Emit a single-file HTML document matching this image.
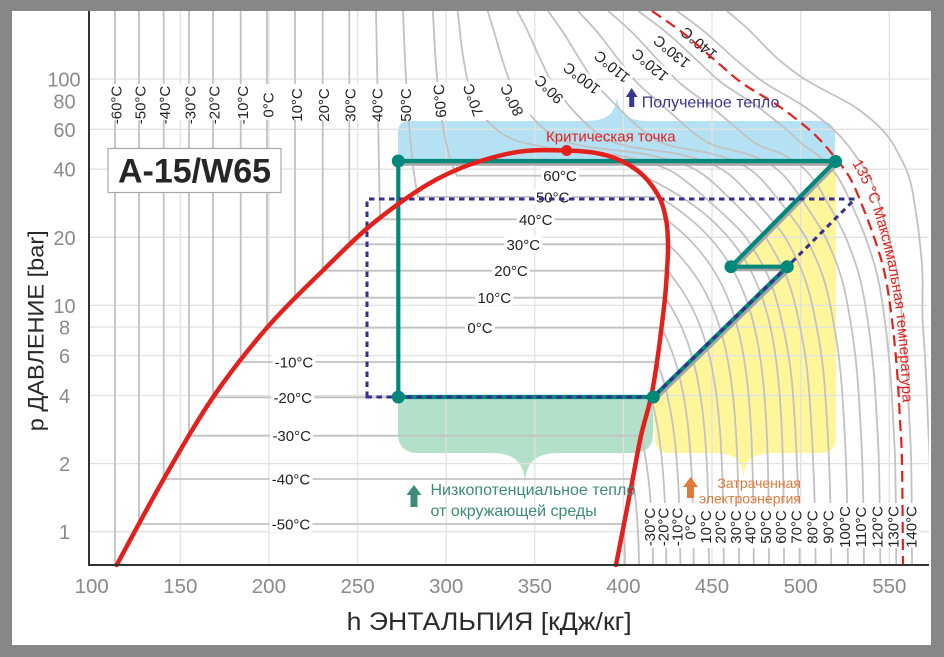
<!DOCTYPE html>
<html><head><meta charset="utf-8">
<style>
html,body{margin:0;padding:0;background:#878787;width:944px;height:657px;overflow:hidden}
svg{display:block}
text{font-family:"Liberation Sans",Arial,sans-serif}
</style></head><body>
<svg width="944" height="657" viewBox="0 0 944 657" xmlns="http://www.w3.org/2000/svg">
<defs>
<clipPath id="cp"><rect x="89" y="11" width="840" height="554"/></clipPath>
<path id="tp" d="M 852,163 Q 868,190 877,222 Q 889,262 895,305 Q 902,360 903,418"/>
</defs>
<rect width="944" height="657" fill="#878787"/>
<rect x="12" y="11" width="919" height="634" fill="#ffffff"/>

<!-- colored regions -->
<path d="M398,161 L398,133 Q398,121 410,121 L585,121 C607,121 615,114 617,97 C619,114 627,121 649,121 L820,121 Q835,121 835,136 L835,161 Z" fill="#b4e1f4"/>
<path d="M398,397 L653,397 L653,433 Q653,453 633,453 L560,453 C535,453 527,462 525,482 C523,462 515,453 490,453 L418,453 Q398,453 398,433 Z" fill="#b3e0c8"/>
<path d="M653,397 L787,267 L731,267 L836,161 L836,438 Q836,453 821,453 L775,453 C752,453 745,460 743.5,477 C742,460 735,453 712,453 L670,453 Q655,453 655,438 Z" fill="#fff59b"/>

<!-- grid -->
<g stroke="#e2e2e2" stroke-width="1.3" fill="none">
<path d="M180.3,11V565M268.9,11V565M357.6,11V565M446.2,11V565M534.8,11V565M623.4,11V565M712,11V565M800.7,11V565M889.3,11V565"/>
<path d="M89,79.1H929M89,129.3H929M89,169.2H929M89,237.3H929M89,305.4H929M89,327.1H929M89,355.6H929M89,395.5H929M89,463.6H929M89,531.7H929"/>
</g>

<!-- isotherms (generated) -->
<g id="iso" clip-path="url(#cp)" fill="none" stroke="#c2c2c2" stroke-width="1.8" stroke-linejoin="round"></g>

<!-- top label band -->
<rect x="100" y="84" width="430" height="36" fill="#ffffff"/>
<g font-size="15" fill="#222" text-anchor="middle">
<text transform="translate(116.5,105) rotate(-90)" y="5">-60°C</text>
<text transform="translate(140.5,105) rotate(-90)" y="5">-50°C</text>
<text transform="translate(165,105) rotate(-90)" y="5">-40°C</text>
<text transform="translate(190.5,105) rotate(-90)" y="5">-30°C</text>
<text transform="translate(214.5,105) rotate(-90)" y="5">-20°C</text>
<text transform="translate(243,105) rotate(-90)" y="5">-10°C</text>
<text transform="translate(268.5,105) rotate(-90)" y="5">0°C</text>
<text transform="translate(297,105) rotate(-90)" y="5">10°C</text>
<text transform="translate(324,105) rotate(-90)" y="5">20°C</text>
<text transform="translate(350.5,105) rotate(-90)" y="5">30°C</text>
<text transform="translate(377.5,105) rotate(-90)" y="5">40°C</text>
<text transform="translate(406,105) rotate(-90)" y="5">50°C</text>
</g>

<!-- diagonal labels -->
<g font-size="15" fill="#222" text-anchor="middle">
<g transform="translate(440,101) rotate(-95)"><rect x="-19" y="-8" width="38" height="16" fill="#fff"/><text y="5">60°C</text></g>
<g transform="translate(473.3,100) rotate(-110)"><rect x="-19" y="-8" width="38" height="16" fill="#fff"/><text y="5">70°C</text></g>
<g transform="translate(512,100) rotate(-116)"><rect x="-19" y="-8" width="38" height="16" fill="#fff"/><text y="5">80°C</text></g>
<g transform="translate(549,89.3) rotate(-135)"><rect x="-19" y="-8" width="38" height="16" fill="#fff"/><text y="5">90°C</text></g>
<g transform="translate(581.7,78.3) rotate(-142)"><rect x="-23" y="-8" width="46" height="16" fill="#fff"/><text y="5">100°C</text></g>
<g transform="translate(612,66.7) rotate(-140)"><rect x="-23" y="-8" width="46" height="16" fill="#fff"/><text y="5">110°C</text></g>
<g transform="translate(650,65) rotate(-140)"><rect x="-23" y="-8" width="46" height="16" fill="#fff"/><text y="5">120°C</text></g>
<g transform="translate(671.7,51.7) rotate(-140)"><rect x="-23" y="-8" width="46" height="16" fill="#fff"/><text y="5">130°C</text></g>
<g transform="translate(699,43.3) rotate(-140)"><rect x="-23" y="-8" width="46" height="16" fill="#fff"/><text y="5">140°C</text></g>
</g>

<!-- dome labels -->
<g fill="#fff">
<rect x="541" y="167.7" width="38" height="16"/>
<rect x="533.7" y="189" width="38" height="16"/>
<rect x="516.7" y="211.3" width="38" height="16"/>
<rect x="504.3" y="236.3" width="38" height="16"/>
<rect x="492" y="262.7" width="38" height="16"/>
<rect x="475.3" y="289.7" width="38" height="16"/>
<rect x="465" y="319.7" width="30" height="16"/>
<rect x="272.5" y="354" width="43" height="16"/>
<rect x="271.2" y="389.3" width="43" height="16"/>
<rect x="270.2" y="427.7" width="43" height="16"/>
<rect x="269.5" y="471" width="43" height="16"/>
<rect x="269.5" y="516" width="43" height="16"/>
</g>
<g font-size="15" fill="#222" text-anchor="middle">
<text x="560" y="181.2">60°C</text>
<text x="552.7" y="202.5">50°C</text>
<text x="535.7" y="224.8">40°C</text>
<text x="523.3" y="249.8">30°C</text>
<text x="511" y="276.2">20°C</text>
<text x="494.3" y="303.2">10°C</text>
<text x="480" y="333.2">0°C</text>
<text x="294" y="367.5">-10°C</text>
<text x="292.7" y="402.8">-20°C</text>
<text x="291.7" y="441.2">-30°C</text>
<text x="291" y="484.5">-40°C</text>
<text x="291" y="529.5">-50°C</text>
</g>

<!-- bottom label band -->
<rect x="643" y="503" width="277" height="45" fill="#ffffff"/>
<g font-size="15" fill="#222" text-anchor="middle">
<text transform="translate(650,527) rotate(-90)" y="5">-30°C</text>
<text transform="translate(663.3,527) rotate(-90)" y="5">-20°C</text>
<text transform="translate(677.3,527) rotate(-90)" y="5">-10°C</text>
<text transform="translate(690.7,527) rotate(-90)" y="5">0°C</text>
<text transform="translate(706,527) rotate(-90)" y="5">10°C</text>
<text transform="translate(720.7,527) rotate(-90)" y="5">20°C</text>
<text transform="translate(736,527) rotate(-90)" y="5">30°C</text>
<text transform="translate(750.7,527) rotate(-90)" y="5">40°C</text>
<text transform="translate(766,527) rotate(-90)" y="5">50°C</text>
<text transform="translate(781,527) rotate(-90)" y="5">60°C</text>
<text transform="translate(796.7,527) rotate(-90)" y="5">70°C</text>
<text transform="translate(812.7,527) rotate(-90)" y="5">80°C</text>
<text transform="translate(828.3,527) rotate(-90)" y="5">90°C</text>
<text transform="translate(845,527) rotate(-90)" y="5">100°C</text>
<text transform="translate(861,527) rotate(-90)" y="5">110°C</text>
<text transform="translate(877.3,527) rotate(-90)" y="5">120°C</text>
<text transform="translate(893.3,527) rotate(-90)" y="5">130°C</text>
<text transform="translate(911.7,527) rotate(-90)" y="5">140°C</text>
</g>

<!-- cycle -->
<path d="M400,164.3 L835,164.3 M655.5,399.5 L789.5,269.5 M733,269.8 L789,269.8 M733.5,269 L838,163.5" stroke="#a6a6a6" stroke-width="3" fill="none"/>
<path d="M398.3,161 L398.3,397 L653.3,397 L787.3,266.7 L731,266.7 L835.5,161 Z" stroke="#00897b" stroke-width="4.2" fill="none" stroke-linejoin="round"/>
<path d="M367,397 L367,199 L855,199 L787.3,266.7 L653.3,397 Z" stroke="#372e8e" stroke-width="3" fill="none" stroke-dasharray="5.5,4.5"/>

<!-- saturation dome -->
<path id="dome" d="M116.7,565 L163.7,479 L213,397.3 L267,327.7 L322.7,270.7 L378,219.3 L441.7,176.7 L510,153.3 L566.7,150.5 L607,155.5 L638,171 L658,195 L666,219.3 L668,244.3 L667,270.7 L665,297.7 L661.5,327.7 L657,362 L651,397.3 L641,435.7 L632.7,479 L624,524 L616,565" stroke="#e3211c" stroke-width="4.5" fill="none" stroke-linejoin="round" stroke-linecap="round"/>

<!-- 135 max temp -->
<path id="maxT" d="M652,11 L683,33 L717,62 L742,83 L780,107 L813,133 L833,155 L850,178 L862,205 L875,240 L885,275 L892,320 L897,370 L900,420 L902,463 L903,565" stroke="#e3211c" stroke-width="2.2" fill="none" stroke-dasharray="11,6"/>
<text font-size="15" fill="#e3211c"><textPath href="#tp">135 °C Максимальная температура</textPath></text>

<!-- dots -->
<g fill="#00897b">
<circle cx="398.3" cy="161" r="6.5"/>
<circle cx="398.3" cy="397" r="6.5"/>
<circle cx="653.3" cy="397" r="6.5"/>
<circle cx="731" cy="266.7" r="6.5"/>
<circle cx="787.3" cy="266.7" r="6.5"/>
<circle cx="835.5" cy="161.5" r="6.5"/>
</g>
<circle cx="566.7" cy="150.5" r="5.5" fill="#e3211c"/>

<!-- annotations -->
<text x="546" y="141.5" font-size="15" fill="#e3211c">Критическая точка</text>
<polygon points="631.7,88 637.5,97 634.2,97 634.2,107 629.2,107 629.2,97 625.9,97" fill="#3a3591"/>
<text x="641.7" y="107.5" font-size="16" fill="#3a3591">Полученное тепло</text>
<polygon points="414,485 421.5,495 417.5,495 417.5,507 410.5,507 410.5,495 406.5,495" fill="#3d8b78"/>
<text x="430.5" y="495" font-size="16" fill="#3d8b78">Низкопотенциальное тепло</text>
<text x="430.5" y="516" font-size="16" fill="#3d8b78">от окружающей среды</text>
<polygon points="690.5,477 698,487 694,487 694,498 687,498 687,487 683,487" fill="#e07a3a"/>
<text x="801" y="488" font-size="14" fill="#e07a3a" text-anchor="end">Затраченная</text>
<text x="801" y="503.5" font-size="14" fill="#e07a3a" text-anchor="end">электроэнергия</text>

<rect x="108" y="148.5" width="173" height="44" fill="#ffffff" stroke="#aaaaaa" stroke-width="1.2"/>
<text x="194.5" y="182.3" font-size="34" font-weight="bold" fill="#262626" text-anchor="middle">A-15/W65</text>

<!-- axes -->
<path d="M89,11 V565.5 M88,565 H929" stroke="#333" stroke-width="2" fill="none"/>
<g font-size="20" fill="#8a8a8a" text-anchor="middle">
<text x="64" y="86.6">100</text>
<text x="64.5" y="108.5">80</text>
<text x="64.5" y="136.8">60</text>
<text x="64.5" y="176.7">40</text>
<text x="64.5" y="244.8">20</text>
<text x="64.5" y="312.9">10</text>
<text x="64.5" y="334.6">8</text>
<text x="64.5" y="363.1">6</text>
<text x="64.5" y="403">4</text>
<text x="64.5" y="471.1">2</text>
<text x="64.5" y="539.2">1</text>
</g>
<g font-size="20.5" fill="#8a8a8a" text-anchor="middle">
<text x="91.7" y="593">100</text>
<text x="180.3" y="593">150</text>
<text x="268.9" y="593">200</text>
<text x="357.6" y="593">250</text>
<text x="446.2" y="593">300</text>
<text x="534.8" y="593">350</text>
<text x="623.4" y="593">400</text>
<text x="712" y="593">450</text>
<text x="800.7" y="593">500</text>
<text x="889.3" y="593">550</text>
</g>
<text transform="translate(43.3,330.8) rotate(-90)" font-size="22" fill="#2a2a2a" text-anchor="middle" textLength="201" lengthAdjust="spacingAndGlyphs">p ДАВЛЕНИЕ [bar]</text>
<text x="489.2" y="630" font-size="25" fill="#2a2a2a" text-anchor="middle" textLength="285" lengthAdjust="spacingAndGlyphs">h ЭНТАЛЬПИЯ [кДж/кг]</text>
</svg>
<script>
(function(){
var NS="http://www.w3.org/2000/svg";
var G=document.getElementById('iso');
function Pf(y){return Math.pow(10,(531.7-y)/226.3);}
function add(d){var p=document.createElementNS(NS,'path');p.setAttribute('d',d);G.appendChild(p);}
function smooth(id){
 var el=document.getElementById(id);
 var nums=el.getAttribute('d').match(/-?[\d.]+/g).map(Number);
 var P=[];for(var i=0;i<nums.length;i+=2)P.push([nums[i],nums[i+1]]);
 var d='M'+P[0][0]+','+P[0][1];
 for(var i=0;i<P.length-1;i++){
  var p0=P[Math.max(i-1,0)],p1=P[i],p2=P[i+1],p3=P[Math.min(i+2,P.length-1)];
  var c1x=p1[0]+(p2[0]-p0[0])/6,c1y=p1[1]+(p2[1]-p0[1])/6;
  var c2x=p2[0]-(p3[0]-p1[0])/6,c2y=p2[1]-(p3[1]-p1[1])/6;
  d+=' C'+c1x.toFixed(2)+','+c1y.toFixed(2)+' '+c2x.toFixed(2)+','+c2y.toFixed(2)+' '+p2[0]+','+p2[1];
 }
 el.setAttribute('d',d);
}
smooth('dome');smooth('maxT');
function interp(a,y){
 var n=a.length;
 if(y<=a[0][0])return a[0][1];
 if(y>=a[n-1][0])return a[n-1][1];
 var i=0;while(a[i+1][0]<y)i++;
 var p0=a[Math.max(i-1,0)],p1=a[i],p2=a[i+1],p3=a[Math.min(i+2,n-1)];
 var h=p2[0]-p1[0];
 var m1=(p2[1]-p0[1])/(p2[0]-p0[0])*h;
 var m2=(p3[1]-p1[1])/(p3[0]-p1[0])*h;
 var t=(y-p1[0])/h,t2=t*t,t3=t2*t;
 return (2*t3-3*t2+1)*p1[1]+(t3-2*t2+t)*m1+(-2*t3+3*t2)*p2[1]+(t3-t2)*m2;
}
var pb=Pf(565);
add('M115,11 L115,566');
var sub=[
 [-50,524,139,624,625],
 [-40,479,163.7,632.7,639],
 [-30,435.7,189,641,653],
 [-20,397.3,213,651,666.3],
 [-10,362,240.7,657,680.3],
 [0,327.7,267,661.5,693.7],
 [10,297.7,295,665,709],
 [20,270.7,322.7,667,723.7],
 [30,244.3,349.3,668,739],
 [40,219.3,380,666,753.7],
 [50,197,418,659,769],
 [60,175.7,457,642.5,784]];
sub.forEach(function(r){
 var T=r[0],yT=r[1],xl=r[2],xv=r[3],xb=r[4],d;
 if(T===60) d='M433,11 Q438,140 '+xl+','+yT;
 else if(T===50) d='M403,11 Q408,150 '+xl+','+yT;
 else if(T===40) d='M376,11 L'+xl+','+yT;
 else d='M'+xl+',11 L'+xl+','+yT;
 d+=' L'+xv+','+yT;
 var pT=Pf(yT),n=1.45;
 for(var y=yT+3;y<=565;y+=3){
  var p=Pf(y);var f=Math.max(0,(p-pb)/(pT-pb));
  var x=xb-(xb-xv)*Math.pow(f,n);
  d+=' L'+x.toFixed(1)+','+y.toFixed(1);
 }
 d+=' L'+xb+',566';
 add(d);
});
var d70=[[11,342],[60,336],[100,326],[125,308],[140,285],[147,255],[150,225],[154,190],[160,160],[168,135],[178,118],[200,92],[225,65],[240,52],[280,30],[330,16],[380,8],[480,2],[565,0]];
var d135=[[11,251],[33,220],[62,186],[83,161],[107,123],[133,90],[155,70],[178,53],[205,41],[240,28],[275,18],[320,11],[370,6],[420,3],[463,1],[565,0]];
var gf=[[11,5.0],[60,4.3],[113,5.0],[187,3.8],[267,2.6],[330,2.0],[565,1.8]];
var XB={70:799.7,80:815.7,90:831.3,100:848,110:864,120:880.3,130:896.3};
[70,80,90,100,110,120,130].forEach(function(T){
 var t=(T-70)/65,d='';
 for(var y=11;y<=566;y+=2){
  var dd=(1-t)*interp(d70,y)+t*interp(d135,y);
  var x=XB[T]-dd;
  d+=(d?' L':'M')+x.toFixed(1)+','+y;
 }
 add(d);
});
[140,150].forEach(function(T){
 var d='';
 for(var y=11;y<=566;y+=2){
  var x=903-interp(d135,y)+(T-135)*interp(gf,y);
  d+=(d?' L':'M')+x.toFixed(1)+','+y;
 }
 add(d);
});
})();
</script>
</body></html>
